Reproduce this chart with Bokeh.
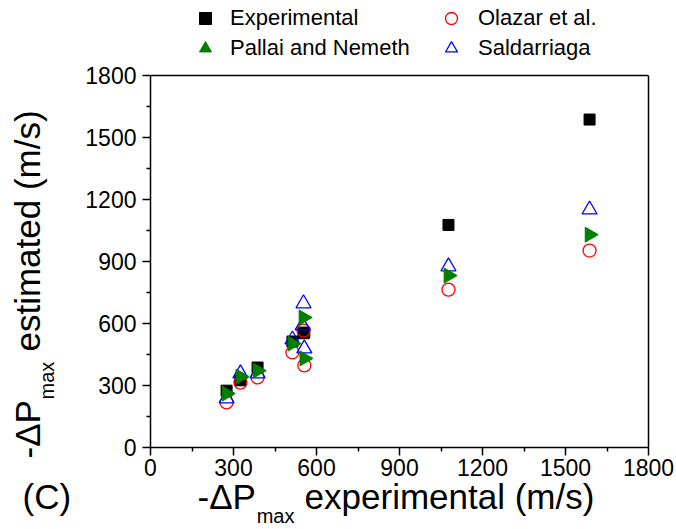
import math
from bokeh.plotting import figure
from bokeh.models import (Range1d, FixedTicker, LinearAxis, Legend, LegendItem, Span)
from bokeh.embed import file_html
from bokeh.resources import INLINE

# ---- data ----
experimental = [275, 325, 387, 513, 553, 556, 1077, 1587]
olazar = [218, 314, 339, 460, 566, 397, 764, 953]
pallai = [261, 343, 372, 503, 629, 431, 832, 1030]
sald_x = [275, 325, 387, 513, 553, 556, 1077, 1587, 550]
saldarriaga = [237, 358, 358, 522, 697, 479, 876, 1151, 590]

series_names = ["Experimental", "Pallai and Nemeth", "Olazar et al.", "Saldarriaga"]
major_ticks = [0, 300, 600, 900, 1200, 1500, 1800]
minor_ticks = [150, 450, 750, 1050, 1350, 1650]

NB = "\u00a0"
x_title = "(C)" + NB * 13 + "-\u0394P" + NB * 5 + "experimental (m/s)"
y_title = "-\u0394P" + NB * 5 + "estimated (m/s)"
subscript = "max"

FONT = "Liberation Sans"

# ---- layout constants ----
AX_MAX = 1800
Y_TOP = 2163          # frame reaches the canvas top so the legend is not clipped
X_TITLE_AT, X_SUB_AT = 571, 452
Y_TITLE_AT, Y_SUB_AT = 789, 324

p = figure(width=676, height=529, output_backend="svg", toolbar_location=None,
           x_range=Range1d(0, AX_MAX), y_range=Range1d(0, Y_TOP),
           min_border_left=150, min_border_right=28, min_border_top=0, min_border_bottom=82)

p.xgrid.visible = False
p.ygrid.visible = False
p.outline_line_color = None
p.background_fill_color = "white"
p.border_fill_color = "white"

def style_main(ax):
    ax.ticker = FixedTicker(ticks=major_ticks, minor_ticks=minor_ticks)
    ax.bounds = (0, AX_MAX)
    ax.axis_line_width = 1.5
    ax.major_tick_line_width = 1.5
    ax.minor_tick_line_width = 1.5
    ax.major_tick_in = 0
    ax.major_tick_out = 8
    ax.minor_tick_in = 0
    ax.minor_tick_out = 4
    ax.major_label_text_font = FONT
    ax.major_label_text_font_size = "23px"
    ax.major_label_text_color = "black"

style_main(p.xaxis[0])
style_main(p.yaxis[0])
p.xaxis[0].major_label_standoff = 3
p.yaxis[0].major_label_standoff = 6

def text_axis(at, text, size, standoff, orientation="horizontal"):
    ax = LinearAxis(ticker=FixedTicker(ticks=[at], minor_ticks=[]),
                    major_label_overrides={at: text},
                    axis_line_color=None, major_tick_line_color=None, minor_tick_line_color=None,
                    major_tick_in=0, major_tick_out=0, minor_tick_in=0, minor_tick_out=0,
                    major_label_standoff=standoff, major_label_orientation=orientation,
                    major_label_text_font=FONT, major_label_text_font_size=size,
                    major_label_text_color="black")
    return ax

# x-axis title pieces (stacked below the x axis)
p.add_layout(text_axis(X_TITLE_AT, x_title, "35px", -2), "below")
p.add_layout(text_axis(X_SUB_AT, subscript, "20px", -14), "below")
# y-axis title pieces (stacked left of the y axis)
p.add_layout(text_axis(Y_SUB_AT, subscript, "20px", 24, "vertical"), "left")
p.add_layout(text_axis(Y_TITLE_AT, y_title, "35px", -14, "vertical"), "left")

# frame box: right edge as a bare axis, top edge as a span
right_ax = LinearAxis(ticker=FixedTicker(ticks=[900], minor_ticks=[]), major_label_overrides={900: ""},
                      bounds=(0, AX_MAX), axis_line_width=1.5, axis_line_color="black",
                      major_tick_line_color=None, minor_tick_line_color=None,
                      major_tick_in=0, major_tick_out=0, minor_tick_in=0, minor_tick_out=0,
                      major_label_standoff=0, major_label_text_font_size="10px")
p.add_layout(right_ax, "right")
p.add_layout(Span(location=AX_MAX, dimension="width", line_color="black", line_width=1.5))

r_exp = p.scatter(experimental, experimental, marker="square", size=11,
                  fill_color="black", line_color="black")
r_ola = p.scatter(experimental, olazar, marker="circle", size=13,
                  fill_color=None, line_color="#ff0000", line_width=1.3)
r_sal = p.scatter(sald_x, saldarriaga, marker="triangle", size=15,
                  fill_color=None, line_color="#0000ff", line_width=1.3)
r_pal = p.scatter(experimental, pallai, marker="triangle", size=15, angle=-math.pi / 2,
                  fill_color="#008000", line_color="#008000")

def make_legend(items, x, standoff):
    return Legend(items=items, location=(x, 384), orientation="vertical",
                  glyph_width=32, glyph_height=30, label_height=30, spacing=0,
                  label_standoff=standoff, padding=0, margin=0,
                  border_line_color=None, background_fill_alpha=0,
                  label_text_font=FONT, label_text_font_size="22px", label_text_color="black")

p.add_layout(make_legend([LegendItem(label=series_names[0], renderers=[r_exp]),
                          LegendItem(label=series_names[1], renderers=[r_pal])], 39, 9), "center")
p.add_layout(make_legend([LegendItem(label=series_names[2], renderers=[r_ola]),
                          LegendItem(label=series_names[3], renderers=[r_sal])], 285, 11), "center")

open("out.html", "w").write(file_html(p, INLINE))
